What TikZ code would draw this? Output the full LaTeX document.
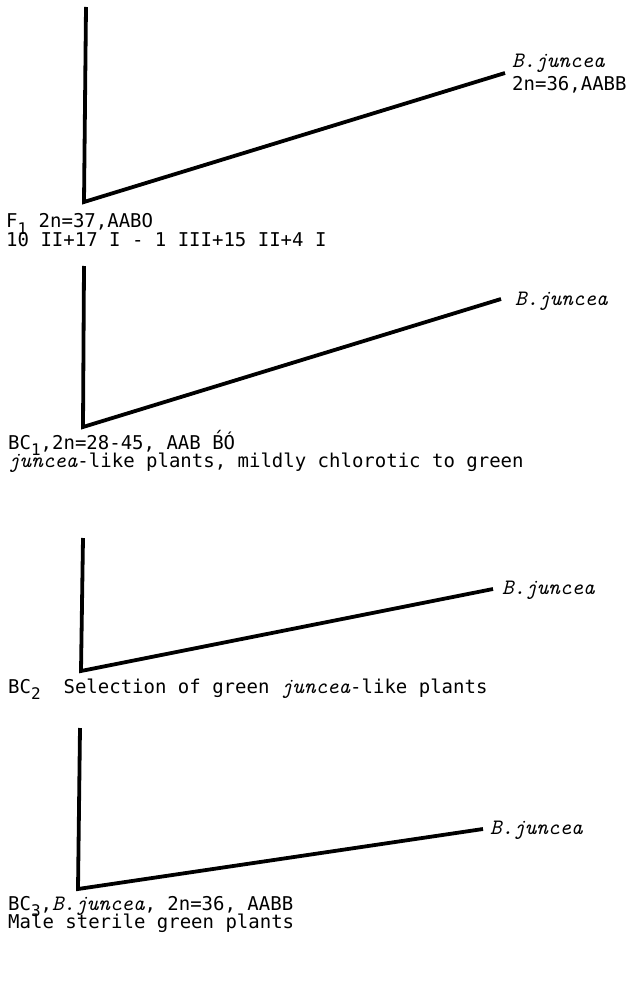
\documentclass[tikz,border=0pt]{standalone}
\usepackage{fontspec}
\newfontfamily\gothic{DejaVu Sans Mono}
\newcommand\lsub[1]{\raisebox{-6pt}{\fontsize{16}{16}\selectfont #1}}
\begin{document}
\begin{tikzpicture}[x=1pt,y=-1pt,
  cross/.style={line width=3.8pt, line join=miter, line cap=butt},
  lbl/.style={anchor=base west, inner sep=0pt, font=\fontsize{19}{23}\selectfont\gothic},
  sp/.style={anchor=base west, inner sep=0pt, font=\fontsize{22}{26}\selectfont\ttfamily\itshape}]
\newcommand\spi[1]{{\fontsize{22}{26}\selectfont\ttfamily\itshape #1}}
\useasboundingbox (0,0) rectangle (630,1008);
% section 1
\coordinate (t1) at (86,7);
\coordinate (c1) at (84,202);
\coordinate (e1) at (505,73);
\draw[cross] (t1) -- (c1) -- (e1);
\node[sp] (j1) at (512,68) {B.juncea};
\node[lbl] (j1b) at (512,91) {2n=36,AABB};
\node[lbl] (f1) at (6,228) {F\lsub{1} 2n=37,AABO};
\node[lbl] (f1b) at (6,246) {10 II+17 I - 1 III+15 II+4 I};
% section 2
\coordinate (t2) at (84,266);
\coordinate (c2) at (83,427);
\coordinate (e2) at (501,299);
\draw[cross] (t2) -- (c2) -- (e2);
\node[sp] (j2) at (515,305) {B.juncea};
\node[lbl] (b1) at (8,449) {BC\lsub{1},2n=28-45, AAB \'B\'O};
\node[lbl] (b1b) at (8,467) {\spi{juncea}-like plants, mildly chlorotic to green};
% section 3
\coordinate (t3) at (83,538);
\coordinate (c3) at (81,671);
\coordinate (e3) at (493,589);
\draw[cross] (t3) -- (c3) -- (e3);
\node[sp] (j3) at (502,594) {B.juncea};
\node[lbl] (b2) at (8,693) {BC\lsub{2}\ \ Selection of green \spi{juncea}-like plants};
% section 4
\coordinate (t4) at (80,728);
\coordinate (c4) at (78,889);
\coordinate (e4) at (483,829);
\draw[cross] (t4) -- (c4) -- (e4);
\node[sp] (j4) at (490,834) {B.juncea};
\node[lbl] (b3) at (8,910) {BC\lsub{3},\spi{B.juncea}, 2n=36, AABB};
\node[lbl] (b3b) at (8,928) {Male sterile green plants};
\end{tikzpicture}
\end{document}
